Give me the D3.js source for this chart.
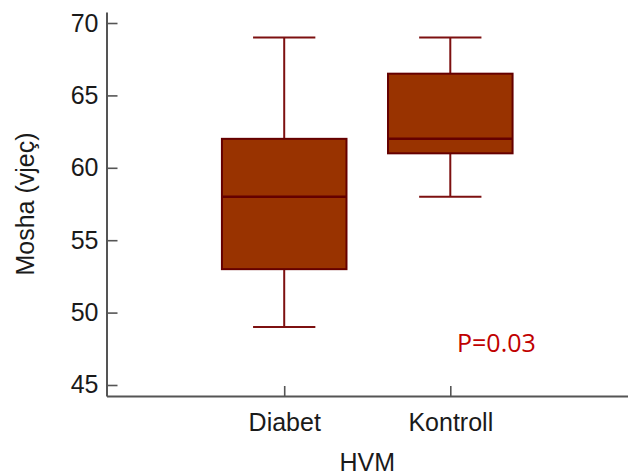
<!DOCTYPE html>
<html>
<head>
<meta charset="utf-8">
<script src="https://cdn.jsdelivr.net/npm/d3@7"></script>
<style>
  html, body { margin: 0; padding: 0; background: #fff; }
  svg { display: block; }
  text { font-family: "Liberation Sans", Arial, sans-serif; }
</style>
</head>
<body>
<svg id="chart" width="628" height="475"></svg>
<script>
// ---- Data ----
const categories = ["Diabet", "Kontroll"];
const whiskerLow = [49, 58];
const q1 = [53, 61];
const median = [58, 62];
const q3 = [62, 66.5];
const whiskerHigh = [69, 69];
const yTicks = [45, 50, 55, 60, 65, 70];
const yLabel = "Mosha (vjeç)";
const xLabel = "HVM";
const pText = "P=0.03";

// ---- Layout ----
const svg = d3.select("#chart");
const mLeft = 106.5, mRight = 628, mTop = 12, mBottom = 396;

const x = d3.scalePoint().domain(categories).range([mLeft, mRight]).padding(1.07);
const y = d3.scaleLinear().domain([44.24, 70.76]).range([mBottom, mTop]);
const step = x.step();
const boxW = step * 0.75;
const capW = boxW * 0.5;

const axisColor = "#555";
const boxFill = "#993300";
const boxStroke = "#650000";
const whiskColor = "#7d1010";

// ---- Axes ----
const yAxis = svg.append("g")
  .attr("transform", `translate(${mLeft},0)`)
  .call(d3.axisLeft(y).tickValues(yTicks).tickSizeInner(-11).tickSizeOuter(0).tickPadding(8));
const xAxis = svg.append("g")
  .attr("transform", `translate(0,${mBottom})`)
  .call(d3.axisBottom(x).tickSizeInner(-10).tickSizeOuter(0).tickPadding(17));

[yAxis, xAxis].forEach(g => {
  g.select(".domain").attr("stroke", axisColor).attr("stroke-width", 2);
  g.selectAll(".tick line").attr("stroke", axisColor).attr("stroke-width", 1.6);
  g.selectAll(".tick text").attr("fill", "#1a1a1a").style("font-size", "25px")
    .style("font-family", "'Liberation Sans', Arial, sans-serif");
});

// ---- Boxes ----
const data = categories.map((c, i) => ({
  c, lo: whiskerLow[i], q1: q1[i], med: median[i], q3: q3[i], hi: whiskerHigh[i]
}));

const gb = svg.append("g");
const bx = gb.selectAll("g.box").data(data).enter().append("g").attr("class", "box");

bx.append("line")
  .attr("x1", d => x(d.c)).attr("x2", d => x(d.c))
  .attr("y1", d => y(d.hi)).attr("y2", d => y(d.q3))
  .attr("stroke", whiskColor).attr("stroke-width", 2);
bx.append("line")
  .attr("x1", d => x(d.c)).attr("x2", d => x(d.c))
  .attr("y1", d => y(d.q1)).attr("y2", d => y(d.lo))
  .attr("stroke", whiskColor).attr("stroke-width", 2);
bx.append("line")
  .attr("x1", d => x(d.c) - capW / 2).attr("x2", d => x(d.c) + capW / 2)
  .attr("y1", d => y(d.hi)).attr("y2", d => y(d.hi))
  .attr("stroke", whiskColor).attr("stroke-width", 2);
bx.append("line")
  .attr("x1", d => x(d.c) - capW / 2).attr("x2", d => x(d.c) + capW / 2)
  .attr("y1", d => y(d.lo)).attr("y2", d => y(d.lo))
  .attr("stroke", whiskColor).attr("stroke-width", 2);
bx.append("rect")
  .attr("x", d => x(d.c) - boxW / 2)
  .attr("width", boxW)
  .attr("y", d => y(d.q3))
  .attr("height", d => y(d.q1) - y(d.q3))
  .attr("fill", boxFill).attr("stroke", boxStroke).attr("stroke-width", 2);
bx.append("line")
  .attr("x1", d => x(d.c) - boxW / 2).attr("x2", d => x(d.c) + boxW / 2)
  .attr("y1", d => y(d.med)).attr("y2", d => y(d.med))
  .attr("stroke", boxStroke).attr("stroke-width", 2.5);

// ---- Labels ----
svg.append("text")
  .attr("transform", `translate(34,${(mTop + mBottom) / 2}) rotate(-90)`)
  .attr("text-anchor", "middle")
  .attr("fill", "#1a1a1a").style("font-size", "25px")
  .text(yLabel);

svg.append("text")
  .attr("x", (mLeft + mRight) / 2).attr("y", 471)
  .attr("text-anchor", "middle")
  .attr("fill", "#1a1a1a").style("font-size", "25px")
  .text(xLabel);

svg.append("text")
  .attr("x", 457).attr("y", 352)
  .attr("fill", "#c00000").style("font-size", "25px")
  .style("font-family", "'Open Sans', 'Liberation Sans', sans-serif")
  .text(pText);
</script>
</body>
</html>
